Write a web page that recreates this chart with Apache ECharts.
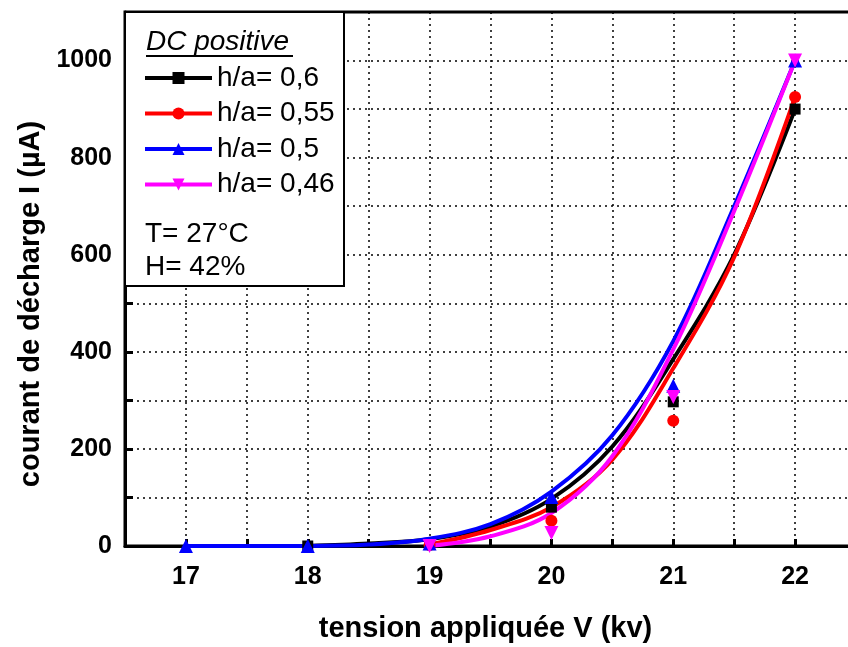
<!DOCTYPE html>
<html>
<head>
<meta charset="utf-8">
<script src="https://cdn.jsdelivr.net/npm/echarts@6/dist/echarts.min.js"></script>
<style>html,body{margin:0;padding:0;background:#fff;}#c{width:848px;height:647px;}</style>
</head>
<body>
<div id="c"></div>
<script>
// Measured points (markers)
const names = ['h/a= 0,6', 'h/a= 0,55', 'h/a= 0,5', 'h/a= 0,46'];
const colors = ['#000000', '#ff0000', '#0000ff', '#ff00ff'];
const pts06  = [[18, 0], [19, 3], [20, 80], [21, 297], [22, 900]];
const pts055 = [[19, 2], [20, 52], [21, 258], [22, 925]];
const pts05  = [[17, 0], [18, 0], [19, 5], [20, 101], [21, 330], [22, 1000]];
const pts046 = [[19, 0], [20, 27], [21, 307], [22, 1000]];
// Fitted curves
const fit06  = [[18, 0], [18.5, 5], [19, 14], [19.5, 40], [20, 97], [20.5, 205], [21, 385], [21.5, 600], [22, 900]];
const fit055 = [[19, 3], [19.5, 33], [20, 80], [20.5, 178], [21, 366], [21.5, 595], [22, 925]];
const fit05  = [[17, 0], [17.5, 0], [18, 0], [18.5, 3], [19, 15], [19.5, 45], [20, 112], [20.5, 228], [21, 422], [21.5, 700], [22, 1000]];
const fit046 = [[19, 0], [19.5, 20], [20, 68], [20.5, 185], [21, 405], [21.5, 690], [22, 1000]];
const yTicks = [0, 200, 400, 600, 800, 1000];
const xTicks = [17, 18, 19, 20, 21, 22];

const FONT = 'Liberation Sans, Arial, sans-serif';
const pts = [pts06, pts055, pts05, pts046];
const fits = [fit06, fit055, fit05, fit046];
const symbols = ['rect', 'circle', 'triangle', 'triangle'];
const rotates = [0, 0, 0, 180];
const sizes = [11, 12, 14, 14];

const series = [];
for (let i = 0; i < 4; i++) {
  series.push({
    name: names[i], type: 'line', data: fits[i], smooth: 0.35,
    showSymbol: false, symbol: symbols[i], symbolRotate: rotates[i],
    lineStyle: { color: colors[i], width: 4 }, itemStyle: { color: colors[i] },
    z: 3, silent: true
  });
}
for (let i = 0; i < 4; i++) {
  series.push({
    name: names[i], type: 'scatter', data: pts[i], symbol: symbols[i], symbolRotate: rotates[i],
    symbolSize: sizes[i], itemStyle: { color: colors[i], opacity: 1 }, z: 4
  });
}

const chart = echarts.init(document.getElementById('c'));
chart.setOption({
  animation: false,
  backgroundColor: '#fff',
  grid: { left: 125, top: 12, width: 731, height: 534, outerBoundsMode: 'none', containLabel: false,
    show: true, borderColor: '#000', borderWidth: 3 },
  xAxis: {
    type: 'value', min: 16.5, max: 22.5, interval: 0.5, offset: 3,
    name: 'tension appliquée V (kv)', nameLocation: 'middle', nameGap: 65,
    nameTextStyle: { fontFamily: FONT, fontWeight: 'bold', fontSize: 29, color: '#000', padding: [0, 10, 0, 0] },
    axisLine: { lineStyle: { color: '#000', width: 3 } },
    axisTick: { inside: true, length: 7, lineStyle: { color: '#000', width: 3 } },
    axisLabel: { margin: 16, fontFamily: FONT, fontWeight: 'bold', fontSize: 25, color: '#000',
      formatter: v => xTicks.indexOf(v) >= 0 ? String(v) : '' },
    splitLine: { show: true, lineStyle: { color: '#000', width: 1.5, type: [2, 4] } }
  },
  yAxis: {
    type: 'value', min: 0, max: 1100, interval: 100,
    name: 'courant de décharge I (µA)', nameLocation: 'middle', nameGap: 80,
    nameTextStyle: { fontFamily: FONT, fontWeight: 'bold', fontSize: 29, color: '#000', padding: [0, 50, 0, 0] },
    axisLine: { lineStyle: { color: '#000', width: 3 } },
    axisTick: { inside: true, length: 8, lineStyle: { color: '#000', width: 3 } },
    axisLabel: { margin: 13, fontFamily: FONT, fontWeight: 'bold', fontSize: 25, color: '#000',
      formatter: v => yTicks.indexOf(v) >= 0 ? String(v) : '' },
    splitLine: { show: true, lineStyle: { color: '#000', width: 1.5, type: [2, 4] } }
  },
  legend: {
    orient: 'vertical', left: 143, top: 64, z: 20, padding: 0,
    data: names, itemWidth: 67, itemHeight: 15, itemGap: 7.5,
    lineStyle: { width: 4 },
    textStyle: { fontFamily: FONT, fontSize: 28, color: '#000', lineHeight: 28 },
    selectedMode: false
  },
  graphic: [
    { type: 'rect', z: 15, shape: { x: 125, y: 12, width: 219, height: 274 },
      style: { fill: '#fff', stroke: '#000', lineWidth: 2 } },
    { type: 'text', z: 21, left: 146, top: 28,
      style: { text: 'DC positive', font: 'italic 28px ' + FONT, fill: '#000' } },
    { type: 'line', z: 21, shape: { x1: 146, y1: 56, x2: 293, y2: 56 }, style: { stroke: '#000', lineWidth: 2 } },
    { type: 'text', z: 21, left: 145, top: 220,
      style: { text: 'T= 27°C', font: '28px ' + FONT, fill: '#000' } },
    { type: 'text', z: 21, left: 145, top: 253,
      style: { text: 'H= 42%', font: '28px ' + FONT, fill: '#000' } }
  ],
  series: series
});
</script>
</body>
</html>
